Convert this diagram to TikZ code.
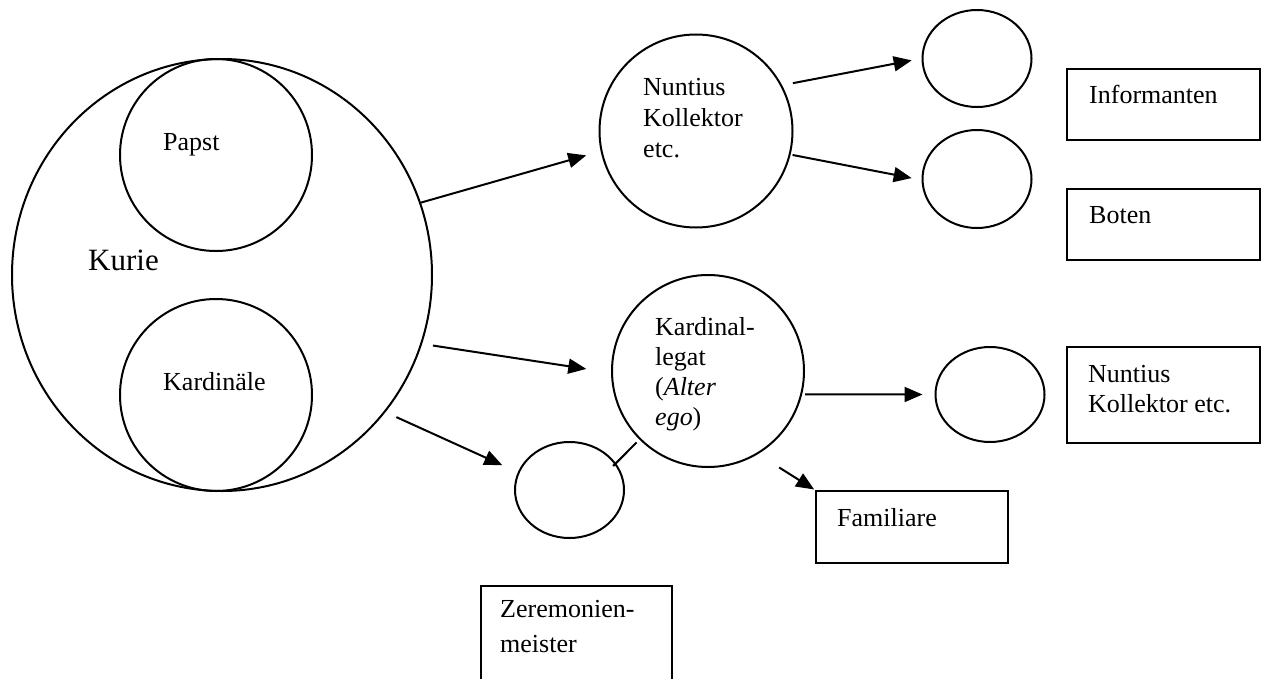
\documentclass[tikz,border=0pt]{standalone}
\usepackage{fontspec}
\setmainfont{Liberation Serif}
\usetikzlibrary{shapes.geometric,arrows.meta}
% left-aligned block of lines whose baseline is that of its first line
\newcommand\stackedlines[1]{\begin{tabular}[t]{@{}l@{}}#1\end{tabular}}
\begin{document}
\begin{tikzpicture}[x=1pt,y=-1pt,
  orb/.style={draw, ellipse, inner sep=0pt, line width=2pt},
  box/.style={draw, rectangle, inner sep=0pt, line width=2pt},
  lbl/.style={anchor=base west, inner sep=0pt, font=\fontsize{26}{31}\selectfont},
  link/.style={line width=2pt},
  arr/.style={link, -{Triangle[length=18pt,width=15pt]}}]
\useasboundingbox (0,0) rectangle (1269,678);
\clip (0,0) rectangle (1269,678);

% Kurie with Papst and Kardinaele
\node[orb, minimum width=420pt, minimum height=432pt] (kurie) at (222,275) {};
\node[orb, minimum width=192pt, minimum height=192pt] (papst) at (216,155) {};
\node[orb, minimum width=192pt, minimum height=192pt] (kard) at (216,395) {};

% upper branch
\node[orb, minimum width=193pt, minimum height=193pt] (nun) at (696,131) {};
\node[orb, minimum width=109pt, minimum height=97pt] (s1) at (977,58.5) {};
\node[orb, minimum width=109pt, minimum height=98pt] (s2) at (977,179) {};
\node[box, minimum width=193pt, minimum height=71pt] (inf) at (1163.5,104.5) {};
\node[box, minimum width=193pt, minimum height=71pt] (bot) at (1163.5,224.5) {};

% lower branch
\node[orb, minimum width=192pt, minimum height=192pt] (kl) at (708,371) {};
\node[orb, minimum width=109pt, minimum height=95pt] (rc) at (990,394.5) {};
\node[orb, minimum width=109pt, minimum height=96pt] (zc) at (569.5,490) {};
\node[box, minimum width=193pt, minimum height=96pt] (nkb) at (1163.5,395) {};
\node[box, minimum width=192pt, minimum height=72pt] (fam) at (912,527) {};
\node[box, minimum width=191pt, minimum height=140pt] (zer) at (576.5,656) {};

% labels
\node[lbl] (tpapst) at (163,150) {Papst};
\node[lbl, font=\fontsize{31}{36}\selectfont] (tkurie) at (88,270) {Kurie};
\node[lbl] (tkard) at (163,390) {Kardinäle};
\node[lbl] (tnun) at (643,95) {\stackedlines{Nuntius\\Kollektor\\etc.}};
\node[lbl] (tinf) at (1089,103) {Informanten};
\node[lbl] (tbot) at (1089,223) {Boten};
\node[lbl, font=\fontsize{26}{30}\selectfont] (tkl) at (655,335)
  {\stackedlines{Kardinal-\\legat\\(\textit{Alter}\\\textit{ego})}};
\node[lbl, font=\fontsize{26}{30}\selectfont] (tnk) at (1088,382)
  {\stackedlines{Nuntius\\Kollektor etc.}};
\node[lbl] (tfam) at (837,526) {Familiare};
\node[lbl, font=\fontsize{26}{35}\selectfont] (tzer) at (500,617)
  {\stackedlines{Zeremonien-\\meister}};

% connectors
\draw[arr, shorten >=15pt] (kurie.20) -- (nun.192);
\draw[arr, shorten <=11pt, shorten >=10pt] (nun.28) -- (s1.180);
\draw[arr, shorten <=2pt, shorten >=10pt] (nun.-14) -- (s2.181);
\draw[arr, shorten <=11pt, shorten >=25pt] (kurie.-19.5) -- (kl.181);
\draw[arr, shorten <=12pt, shorten >=17pt] (kurie.-40.5) -- (zc.161.5);
\draw[link, shorten <=4pt, shorten >=-4pt] (kl.225) -- (zc.30);
\draw[arr, shorten <=3pt, shorten >=12pt] (kl.-14.5) -- (rc.180);
\draw[arr, shorten <=25pt, shorten >=1pt] (kl.-59) -- (fam.north west);
\end{tikzpicture}
\end{document}
